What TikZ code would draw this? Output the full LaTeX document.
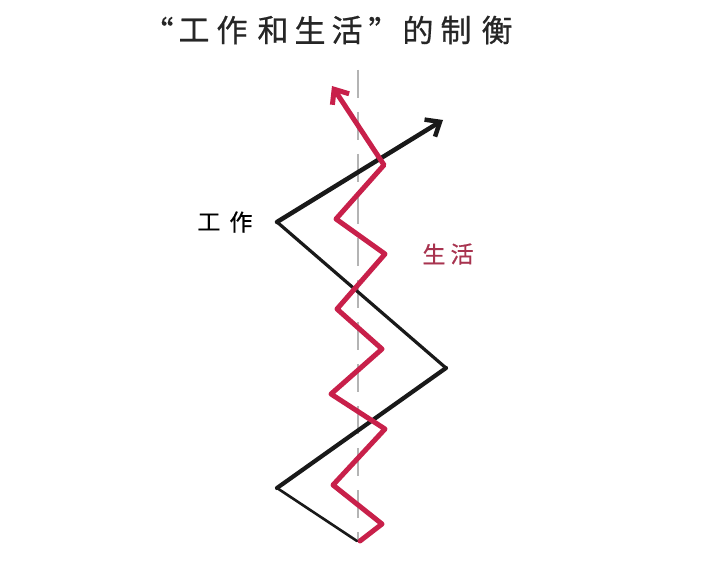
\documentclass[tikz,border=0pt]{standalone}
\usepackage{fontspec}
\newfontfamily\cjk[FakeBold=0.6]{Noto Sans CJK SC}
\usetikzlibrary{arrows.meta}
\definecolor{lifered}{HTML}{C8204A}
\definecolor{labelred}{HTML}{A8334F}
\definecolor{guide}{HTML}{B4B4B4}
\tikzset{
  titlech/.style={font=\cjk\fontsize{31}{31}\selectfont, inner sep=0pt, text=black!85},
  labelch/.style={font=\cjk\fontsize{23}{23}\selectfont, inner sep=0pt},
  workline/.style={draw=black!90, line join=round, line cap=round},
  lifeline/.style={draw=lifered, line width=5pt, line join=round, line cap=round},
  guideline/.style={draw=guide, line width=1.6pt, dash pattern=on 28pt off 14pt},
  tip/.style={-{Straight Barb[length=12pt,width=20pt]}}
}
\begin{document}
\begin{tikzpicture}[x=1pt,y=-1pt]
\useasboundingbox (0,0) rectangle (720,569);
\fill[white] (0,0) rectangle (720,569);
% title
\node[titlech] (t1) at (158,30) {“};
\node[titlech] (t2) at (194,30) {工};
\node[titlech] (t3) at (232,30) {作};
\node[titlech] (t4) at (273,30) {和};
\node[titlech] (t5) at (310,30) {生};
\node[titlech] (t6) at (347,30) {活};
\node[titlech] (t7) at (384,30) {”};
\node[titlech] (t8) at (418,30) {的};
\node[titlech] (t9) at (456,30) {制};
\node[titlech] (t10) at (497,30) {衡};
% guide
\coordinate (g0) at (358,70);
\coordinate (g1) at (358,540);
\draw[guideline] (g0) -- (g1);
% work line
\coordinate (b0) at (357,541);
\coordinate (b1) at (277,488);
\coordinate (b2) at (446,368);
\coordinate (b3) at (277,222);
\coordinate (b4) at (443,120);
\draw[workline, line width=2.6pt] (b0) -- (b1);
\draw[workline, line width=4.2pt] (b1) -- (b2);
\draw[workline, line width=3.2pt] (b2) -- (b3);
\draw[workline, line width=4.5pt, tip] (b3) -- (b4);
% life line
\coordinate (r0) at (360,541);
\coordinate (r1) at (382,524);
\coordinate (r2) at (333,485);
\coordinate (r3) at (385,429);
\coordinate (r4) at (331,394);
\coordinate (r5) at (382,349);
\coordinate (r6) at (337,309);
\coordinate (r7) at (385,254);
\coordinate (r8) at (336,219);
\coordinate (r9) at (384,165);
\coordinate (r10) at (332,86);
\draw[lifeline, tip] (r0) -- (r1) -- (r2) -- (r3) -- (r4) -- (r5) -- (r6) -- (r7) -- (r8) -- (r9) -- (r10);
% labels
\node[labelch, text=black] (w1) at (209,222) {工};
\node[labelch, text=black] (w2) at (241,222) {作};
\node[labelch, text=labelred] (l1) at (434,254) {生};
\node[labelch, text=labelred] (l2) at (462,254) {活};
\end{tikzpicture}
\end{document}
